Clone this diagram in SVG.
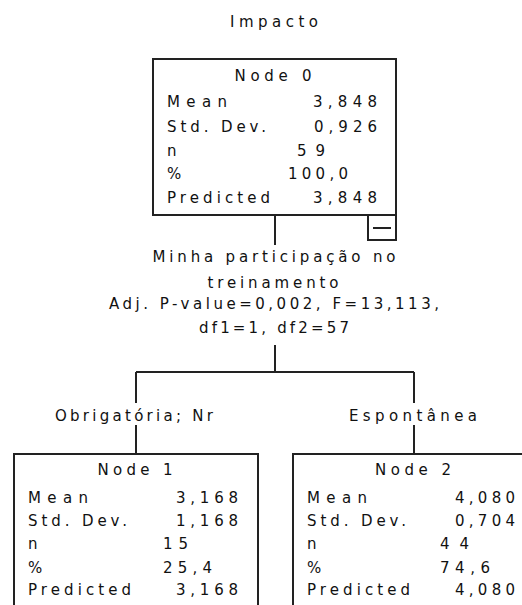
<svg xmlns="http://www.w3.org/2000/svg" width="522" height="605" viewBox="0 0 522 605">
  <style>
    text { font-family: "DejaVu Sans", "Liberation Sans", sans-serif; font-size: 15px; fill: #111111; }
    .box { fill: #ffffff; stroke: #222222; stroke-width: 2; }
    .link { fill: none; stroke: #222222; stroke-width: 2; }
    .mid { text-anchor: middle; }
    .end { text-anchor: end; }
  </style>
  <rect width="522" height="605" fill="#ffffff"/>

  <!-- tree title -->
  <text x="274" y="27" class="mid" textLength="88" lengthAdjust="spacing">Impacto</text>

  <!-- connectors -->
  <g id="connectors">
    <path class="link" d="M275 215 V245"/>
    <path class="link" d="M275 345 V372"/>
    <path class="link" d="M136 372 H414"/>
    <path class="link" d="M136 372 V403 M136 425 V454"/>
    <path class="link" d="M414 372 V403 M414 425 V454"/>
  </g>

  <!-- split description -->
  <g id="split">
    <text x="274" y="262" class="mid" textLength="243" lengthAdjust="spacing">Minha participação no</text>
    <text x="273" y="288" class="mid" textLength="131" lengthAdjust="spacing">treinamento</text>
    <text x="274" y="309" class="mid" textLength="330" lengthAdjust="spacing">Adj. P-value=0,002, F=13,113,</text>
    <text x="274" y="333" class="mid" textLength="150" lengthAdjust="spacing">df1=1, df2=57</text>
    <text x="134" y="421" class="mid" textLength="158" lengthAdjust="spacing">Obrigatória; Nr</text>
    <text x="413" y="421" class="mid" textLength="128" lengthAdjust="spacing">Espontânea</text>
  </g>

  <!-- root node -->
  <g id="node0">
    <rect class="box" x="153" y="59" width="243" height="156"/>
    <text x="273" y="81" class="mid" textLength="77" lengthAdjust="spacing">Node 0</text>
    <text x="167" y="107" textLength="60" lengthAdjust="spacing">Mean</text>
    <text x="167" y="132" textLength="99" lengthAdjust="spacing">Std. Dev.</text>
    <text x="167" y="156">n</text>
    <text x="167" y="179" textLength="14" lengthAdjust="spacing">%</text>
    <text x="167" y="203" textLength="103" lengthAdjust="spacing">Predicted</text>
    <text x="377" y="107" class="end" textLength="64" lengthAdjust="spacing">3,848</text>
    <text x="377" y="132" class="end" textLength="63" lengthAdjust="spacing">0,926</text>
    <text x="297" y="156" textLength="28" lengthAdjust="spacing">59</text>
    <text x="288" y="179" textLength="60" lengthAdjust="spacing">100,0</text>
    <text x="377" y="203" class="end" textLength="64" lengthAdjust="spacing">3,848</text>
    <!-- collapse toggle -->
    <rect class="box" x="368" y="215" width="28" height="25"/>
    <path class="link" d="M373 228 H391"/>
  </g>

  <!-- left child -->
  <g id="node1">
    <rect class="box" x="14" y="454" width="244" height="170"/>
    <text x="135" y="475" class="mid" textLength="75" lengthAdjust="spacing">Node 1</text>
    <text x="28" y="503" textLength="60" lengthAdjust="spacing">Mean</text>
    <text x="28" y="526" textLength="99" lengthAdjust="spacing">Std. Dev.</text>
    <text x="28" y="549">n</text>
    <text x="28" y="573" textLength="14" lengthAdjust="spacing">%</text>
    <text x="28" y="595" textLength="103" lengthAdjust="spacing">Predicted</text>
    <text x="238" y="503" class="end" textLength="62" lengthAdjust="spacing">3,168</text>
    <text x="238" y="526" class="end" textLength="62" lengthAdjust="spacing">1,168</text>
    <text x="163" y="549" textLength="25" lengthAdjust="spacing">15</text>
    <text x="163" y="573" textLength="49" lengthAdjust="spacing">25,4</text>
    <text x="238" y="595" class="end" textLength="62" lengthAdjust="spacing">3,168</text>
  </g>

  <!-- right child -->
  <g id="node2">
    <rect class="box" x="293" y="454" width="244" height="170"/>
    <text x="413" y="475" class="mid" textLength="76" lengthAdjust="spacing">Node 2</text>
    <text x="307" y="503" textLength="60" lengthAdjust="spacing">Mean</text>
    <text x="307" y="526" textLength="99" lengthAdjust="spacing">Std. Dev.</text>
    <text x="307" y="549">n</text>
    <text x="307" y="573" textLength="14" lengthAdjust="spacing">%</text>
    <text x="307" y="595" textLength="103" lengthAdjust="spacing">Predicted</text>
    <text x="515" y="503" class="end" textLength="60" lengthAdjust="spacing">4,080</text>
    <text x="515" y="526" class="end" textLength="60" lengthAdjust="spacing">0,704</text>
    <text x="440" y="549" textLength="29" lengthAdjust="spacing">44</text>
    <text x="440" y="573" textLength="50" lengthAdjust="spacing">74,6</text>
    <text x="515" y="595" class="end" textLength="60" lengthAdjust="spacing">4,080</text>
  </g>
</svg>
